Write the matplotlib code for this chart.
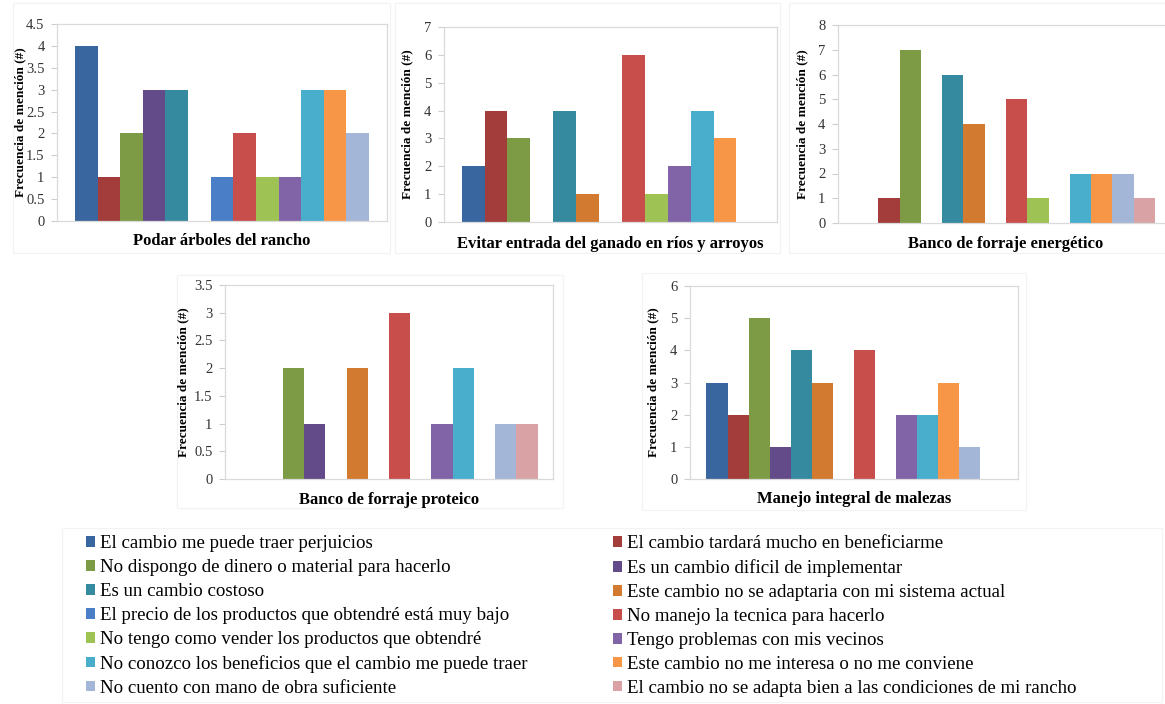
import numpy as np
import matplotlib
matplotlib.use('Agg')
import matplotlib.pyplot as plt
from matplotlib.patches import Patch, Rectangle

plt.rcParams['font.family'] = ['Liberation Serif', 'DejaVu Serif']

# razones de no adopción (orden de las series)
razones = [
    'El cambio me puede traer perjuicios',
    'El cambio tardará mucho en beneficiarme',
    'No dispongo de dinero o material para hacerlo',
    'Es un cambio dificil de implementar',
    'Es un cambio costoso',
    'Este cambio no se adaptaria con mi sistema actual',
    'El precio de los productos que obtendré está muy bajo',
    'No manejo la tecnica para hacerlo',
    'No tengo como vender los productos que obtendré',
    'Tengo problemas con mis vecinos',
    'No conozco los beneficios que el cambio me puede traer',
    'Este cambio no me interesa o no me conviene',
    'No cuento con mano de obra suficiente',
    'El cambio no se adapta bien a las condiciones de mi rancho',
]
colores = ['#3A66A0', '#A33D3B', '#7D9B44', '#634B8A', '#368AA0', '#D27A30',
           '#4A7FC8', '#C84E4C', '#9EC253', '#8163A8', '#48AECB', '#F79646',
           '#A4B6D8', '#D9A3A5']

# frecuencia de mención por práctica (los dos primeros no incluyen la última serie)
podar = [4, 1, 2, 3, 3, 0, 1, 2, 1, 1, 3, 3, 2]
evitar_ganado = [2, 4, 3, 0, 4, 1, 0, 6, 1, 2, 4, 3, 0]
banco_energetico = [0, 1, 7, 0, 6, 4, 0, 5, 1, 0, 2, 2, 2, 1]
banco_proteico = [0, 0, 2, 1, 0, 2, 0, 3, 0, 1, 2, 0, 1, 1]
malezas = [3, 2, 5, 1, 4, 3, 0, 4, 0, 2, 2, 3, 1, 0]

W, H = 1165, 704
fig = plt.figure(figsize=(W / 100, H / 100), dpi=100)


def px_axes(left, top, right, bottom):
    return fig.add_axes([left / W, 1 - bottom / H, (right - left) / W, (bottom - top) / H])


def marco(left, top, right, bottom):
    fig.patches.append(Rectangle((left / W, 1 - bottom / H), (right - left) / W,
                                 (bottom - top) / H, transform=fig.transFigure,
                                 fill=False, edgecolor='#F3F3F3', lw=0.9))


def grafico(valores, titulo, caja, margen, ymax, paso, ylab_x, titulo_y):
    left, top, right, bottom = caja
    ax = px_axes(left, top, right, bottom)
    n = len(valores)
    x = np.arange(n)
    ax.bar(x, valores, width=1.0, color=colores[:n], linewidth=0)
    ax.set_xlim(-0.5 - margen, n - 0.5 + margen)
    ax.set_ylim(0, ymax)
    ticks = np.arange(0, ymax + paso / 2, paso)
    ax.set_yticks(ticks)
    ax.set_yticklabels([f'{t:g}' for t in ticks], fontsize=10.5, color='#333333')
    ax.set_xticks([])
    for s in ax.spines.values():
        s.set_color('#DADADA')
        s.set_linewidth(0.9)
    ax.tick_params(axis='y', length=4, color='#CFCFCF', pad=5)
    xc = (left + right) / 2
    fig.text(xc / W, 1 - titulo_y / H, titulo, ha='center', va='center',
             fontsize=12, fontweight='bold')
    fig.text(ylab_x / W, 1 - (top + bottom) / 2 / H, 'Frecuencia de mención (#)',
             rotation=90, ha='center', va='center', fontsize=9.5, fontweight='bold')
    return ax


# marcos de cada gráfico
marco(13, 3, 390, 253)
marco(395, 3, 780, 253)
marco(789, 3, 1175, 253)
marco(177, 275, 563, 508)
marco(642, 273, 1026, 510)
marco(62, 528, 1162, 702)

grafico(podar, 'Podar árboles del rancho', (57, 24, 387, 221), 0.8, 4.5, 0.5, 20, 241)
grafico(evitar_ganado, 'Evitar entrada del ganado en ríos y arroyos', (444, 27, 777, 222),
        0.77, 7, 1, 407, 244)
grafico(banco_energetico, 'Banco de forraje energético', (838, 25, 1174, 223),
        0.89, 8, 1, 802, 244)
grafico(banco_proteico, 'Banco de forraje proteico', (225, 285, 553, 479),
        0.72, 3.5, 0.5, 183, 500)
grafico(malezas, 'Manejo integral de malezas', (690, 286, 1018, 479),
        0.78, 6, 1, 653, 499)

# leyenda en dos columnas
handles = [Patch(facecolor=c, edgecolor='none') for c in colores]
estilo = dict(frameon=False, fontsize=13.6, handlelength=0.5, handleheight=0.5,
              handletextpad=0.25, labelspacing=0.37, borderaxespad=0, borderpad=0)
fig.legend(handles[0::2], razones[0::2], loc='upper left',
           bbox_to_anchor=(86 / W, 1 - 535 / H), **estilo)
fig.legend(handles[1::2], razones[1::2], loc='upper left',
           bbox_to_anchor=(613 / W, 1 - 535 / H), **estilo)

fig.savefig('out.png', dpi=100)
